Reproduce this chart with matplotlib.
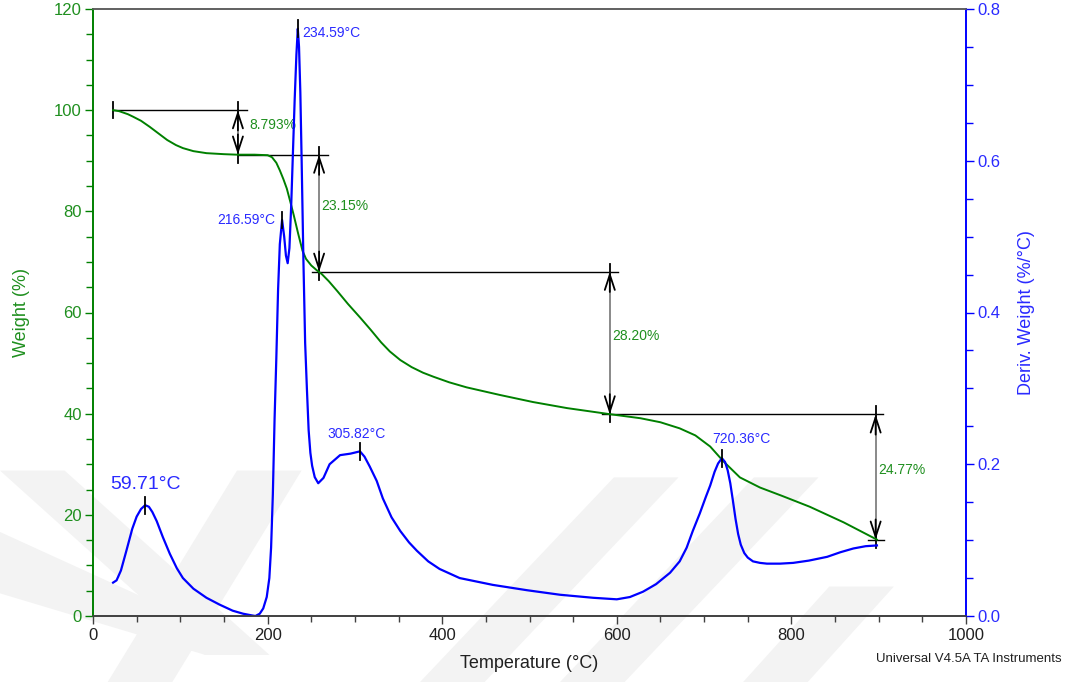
import matplotlib
matplotlib.use("Agg")
import matplotlib.pyplot as plt
from matplotlib.patches import Polygon

plt.rcParams["font.family"] = ["Liberation Sans", "DejaVu Sans"]

# ---------------- data ----------------
tga_temp = [23, 30, 40, 46, 55, 65, 75, 85, 95, 103, 115, 130, 150, 165, 185,
            200, 205, 210, 214, 218, 222, 226, 230, 235, 240, 244, 250, 256,
            262, 270, 280, 292, 306, 318, 330, 340, 352, 365, 378, 390, 408,
            428, 466, 504, 543, 592, 627, 650, 672, 690, 707, 722, 741, 764,
            790, 821, 860, 898]
tga_weight = [100.0, 99.8, 99.2, 98.7, 97.9, 96.7, 95.4, 94.1, 93.1, 92.5, 91.9,
              91.5, 91.3, 91.2, 91.2, 91.1, 90.7, 89.6, 88.1, 86.4, 84.5, 81.9,
              79.2, 75.6, 72.2, 70.6, 69.3, 68.4, 67.6, 66.2, 64.2, 61.7, 59.0,
              56.6, 54.1, 52.3, 50.6, 49.2, 48.1, 47.3, 46.2, 45.2, 43.7, 42.3,
              41.1, 39.9, 39.1, 38.3, 37.1, 35.7, 33.5, 30.6, 27.4, 25.4, 23.7,
              21.6, 18.5, 15.1]

dtg_temp = [23, 27, 32, 38, 45, 50, 55, 59.71, 64, 68, 73, 80, 88, 96, 103, 115,
            130, 145, 160, 172, 181, 186, 191, 195, 199, 202, 204, 206, 208,
            210, 212, 214, 216.59, 219, 221, 223, 225, 227, 229, 231, 233,
            234.59, 236, 237.5, 239, 241, 243, 245, 247, 249, 251, 254, 258,
            264, 271, 283, 295, 305.82, 311, 317, 325, 332, 342, 352, 362, 371,
            384, 397, 420, 458, 497, 535, 573, 600, 615, 630, 645, 661, 672,
            680, 687, 695, 702, 707, 712, 716, 720.36, 724, 727, 730, 733, 736,
            739, 742, 746, 750, 756, 764, 772, 787, 802, 820, 841, 856, 871,
            885, 898]
dtg_value = [0.044, 0.047, 0.060, 0.085, 0.115, 0.131, 0.141, 0.146, 0.144,
             0.137, 0.125, 0.104, 0.082, 0.063, 0.050, 0.036, 0.024, 0.015,
             0.007, 0.003, 0.001, 0.000, 0.003, 0.010, 0.025, 0.050, 0.090,
             0.160, 0.260, 0.340, 0.430, 0.490, 0.522, 0.500, 0.475, 0.465,
             0.485, 0.540, 0.610, 0.680, 0.740, 0.774, 0.750, 0.690, 0.600,
             0.470, 0.360, 0.300, 0.245, 0.215, 0.198, 0.183, 0.175, 0.182,
             0.200, 0.212, 0.214, 0.217, 0.210, 0.197, 0.178, 0.155, 0.130,
             0.112, 0.097, 0.086, 0.072, 0.062, 0.050, 0.041, 0.034, 0.028,
             0.024, 0.022, 0.025, 0.032, 0.042, 0.057, 0.072, 0.090, 0.112,
             0.135, 0.157, 0.172, 0.190, 0.201, 0.208, 0.203, 0.192, 0.175,
             0.152, 0.128, 0.108, 0.094, 0.083, 0.077, 0.072, 0.070, 0.069,
             0.069, 0.070, 0.073, 0.078, 0.084, 0.089, 0.092, 0.093]

# weight-loss steps: (arrow temperature, loss %)
step_x = [166, 259, 592, 896.5]
step_loss = [8.793, 23.15, 28.20, 24.77]
step_labels = ["8.793%", "23.15%", "28.20%", "24.77%"]
step_text_pos = [(179, 97.1), (262, 81.0), (594.5, 55.4), (900, 28.9)]

# DTG peaks
peak_temp = [59.71, 216.59, 234.59, 305.82, 720.36]
peak_value = [0.146, 0.522, 0.774, 0.217, 0.208]
peak_labels = ["59.71°C", "216.59°C", "234.59°C", "305.82°C", "720.36°C"]

GREEN = "#008000"
GREEN_TXT = "#1f8f1f"
BLUE = "#0000ff"
BLUE_TXT = "#2a2aff"

fig = plt.figure(figsize=(10.77, 6.82), dpi=100)

# faint background watermark bands
wm = "#f3f3f3"
bands = [
    [(0, 0.31), (0.06, 0.31), (0.25, 0.04), (0.19, 0.04)],
    [(0.0, 0.22), (0.0, 0.13), (0.19, 0.04), (0.25, 0.04)],
    [(0.22, 0.31), (0.28, 0.31), (0.16, 0.0), (0.10, 0.0)],
    [(0.39, 0.0), (0.45, 0.0), (0.63, 0.30), (0.57, 0.30)],
    [(0.52, 0.0), (0.58, 0.0), (0.76, 0.30), (0.70, 0.30)],
    [(0.69, 0.0), (0.75, 0.0), (0.83, 0.14), (0.77, 0.14)],
]
for b in bands:
    fig.patches.append(Polygon(b, closed=True, transform=fig.transFigure,
                               facecolor=wm, edgecolor="none", zorder=-10))

ax = fig.add_axes([93 / 1077, 66 / 682, 873 / 1077, 607 / 682])
ax.patch.set_alpha(0)
ax2 = ax.twinx()

# TGA curve
ax.plot(tga_temp, tga_weight, color=GREEN, lw=1.4, zorder=5)
ax.set_xlim(0, 1000)
ax.set_ylim(0, 120)

# step-change annotations
def step_arrow(x, y_top, y_bot):
    ax.plot([x, x], [y_top, y_bot], color="#808080", lw=1.3, zorder=3)
    for a, b in [(y_top - 4, y_top), (y_bot + 4, y_bot)]:
        ax.annotate("", xy=(x, b), xytext=(x, a),
                    arrowprops=dict(arrowstyle="->,head_length=0.55,head_width=0.18",
                                    color="black", lw=1.3, shrinkA=0, shrinkB=0,
                                    mutation_scale=20), zorder=4)
    for y in (y_top, y_bot):
        ax.plot([x, x], [y - 1.6, y + 1.6], color="black", lw=1.3, zorder=4)

levels = [100.0]
for loss in step_loss:
    levels.append(levels[-1] - loss)

# horizontal level lines
ax.plot([23, 176], [levels[0]] * 2, color="black", lw=1.0, zorder=3)
ax.plot([23, 23], [levels[0] - 1.6, levels[0] + 1.6], color="black", lw=1.3)
ax.plot([166, 269], [levels[1]] * 2, color="black", lw=1.0, zorder=3)
ax.plot([251, 601], [levels[2]] * 2, color="black", lw=1.0, zorder=3)
ax.plot([583, 905], [levels[3]] * 2, color="black", lw=1.0, zorder=3)
ax.plot([888, 906], [levels[4]] * 2, color="black", lw=1.0, zorder=3)

for i, x in enumerate(step_x):
    step_arrow(x, levels[i], levels[i + 1])
    tx, ty = step_text_pos[i]
    ax.text(tx, ty, step_labels[i], color=GREEN_TXT, fontsize=10,
            ha="left", va="center", zorder=6)

# DTG curve
ax2.plot(dtg_temp, dtg_value, color=BLUE, lw=1.6, zorder=2)
ax2.set_ylim(0, 0.8)

label_pos = [(19.5, 0.173, "left", 14), (208.5, 0.522, "right", 10),
             (239.4, 0.768, "left", 10), (269, 0.24, "left", 10),
             (709, 0.233, "left", 10)]
for t, v, lab, (lx, ly, ha, fs) in zip(peak_temp, peak_value, peak_labels, label_pos):
    ax2.plot([t, t], [v - 0.011, v + 0.011], color="black", lw=1.3, zorder=4)
    ax2.text(lx, ly, lab, color=BLUE_TXT, fontsize=fs, ha=ha, va="center")

# axes styling
ax.set_xticks(range(0, 1001, 200))
ax.set_xticks(range(0, 1001, 50), minor=True)
ax.set_yticks(range(0, 121, 20))
ax.set_yticks(range(0, 121, 5), minor=True)
ax2.set_yticks([0.0, 0.2, 0.4, 0.6, 0.8])
ax2.set_yticks([i * 0.05 for i in range(17)], minor=True)
ax2.set_yticklabels(["0.0", "0.2", "0.4", "0.6", "0.8"])

ax.tick_params(axis="x", which="major", length=6, width=1, color="#404040",
               labelsize=12, labelcolor="#202020", pad=3)
ax.tick_params(axis="x", which="minor", length=4, width=1, color="#404040")
ax.tick_params(axis="y", which="major", length=6, width=1, color=GREEN,
               labelsize=12, labelcolor=GREEN_TXT, pad=2)
ax.tick_params(axis="y", which="minor", length=5, width=1, color=GREEN)
ax2.tick_params(axis="y", which="major", length=6, width=1, color=BLUE,
                labelsize=12, labelcolor=BLUE_TXT, pad=2)
ax2.tick_params(axis="y", which="minor", length=5, width=1, color=BLUE)

for a in (ax, ax2):
    a.spines["left"].set_color(GREEN)
    a.spines["right"].set_color(BLUE)
    a.spines["top"].set_color("#606060")
    a.spines["bottom"].set_color("#404040")
    for s in a.spines.values():
        s.set_linewidth(1.2)

ax.set_xlabel("Temperature (°C)", fontsize=13, color="#202020", labelpad=8)
ax.set_ylabel("Weight (%)", fontsize=13, color=GREEN_TXT, labelpad=17)
ax2.set_ylabel("Deriv. Weight (%/°C)", fontsize=13, color=BLUE_TXT, labelpad=13)

fig.text(1062 / 1077, 1 - 659 / 682, "Universal V4.5A TA Instruments",
         fontsize=9.5, color="#202020", ha="right", va="center")

fig.savefig("out.png", dpi=100)
